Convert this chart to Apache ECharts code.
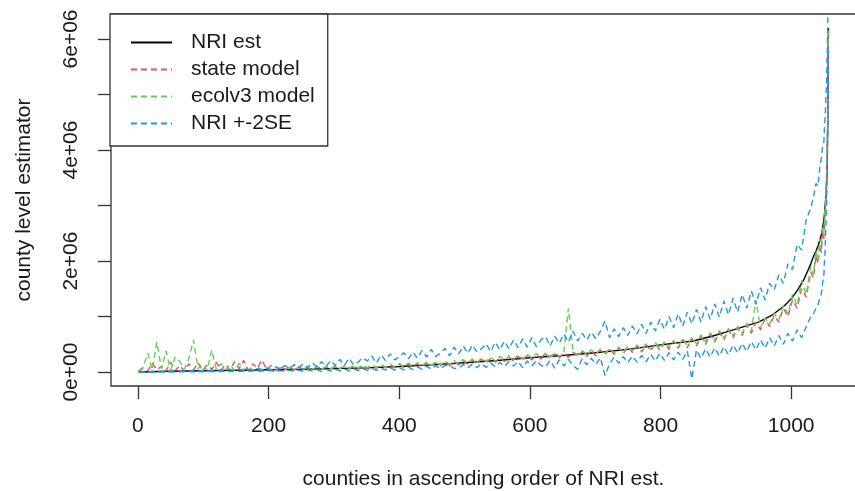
<!DOCTYPE html>
<html>
<head>
<meta charset="utf-8">
<script src="https://cdn.jsdelivr.net/npm/echarts@6/dist/echarts.min.js"></script>
<style>
  html, body { margin: 0; padding: 0; background: #fff; }
  #chart { width: 855px; height: 491px; }
</style>
</head>
<body>
<div id="chart"></div>
<script>
// values in thousands
const nriIdx = [1, 50, 100, 150, 200, 250, 300, 350, 400, 450,
    500, 550, 600, 650, 700, 750, 800, 850, 880, 900,
    925, 950, 970, 990, 1000, 1010, 1020, 1030, 1034, 1038,
    1041, 1044, 1046, 1048, 1050, 1051, 1052, 1053, 1054, 1055,
    1056, 1057]
const nriEst = [3, 15, 25, 33, 42, 52, 63, 76, 100, 130,
    170, 210, 260, 300, 350, 410, 490, 560, 650, 720,
    810, 900, 1020, 1200, 1320, 1480, 1680, 1950, 2080, 2180,
    2270, 2380, 2460, 2580, 2750, 2850, 3000, 3150, 3350, 3650,
    4600, 6200]

// county positions of the noisy series: every 7th county, then the tail
const tailIdx = [1034, 1038, 1041, 1044, 1046, 1048, 1050, 1051, 1052, 1053, 1054, 1055, 1056, 1057]
const sampleIdx = []
for (let i = 1; i <= 1030; i += 7) sampleIdx.push(i)
sampleIdx.push(...tailIdx)

const stateModel = [
    10, 70, 20, 160, 40, 110, 15, 180, 30, 120,
    20, 150, 40, 170, 25, 130, 50, 180, 30, 140,
    40, 190, 60, 210, 30, 150, 70, 220, 40, 120,
    30, 110, 50, 90, 35, 100, 45, 85, 40, 110,
    45, 100, 55, 95, 50, 115, 60, 105, 55, 120,
    65, 115, 70, 125, 75, 130, 80, 140, 85, 145,
    90, 150, 100, 160, 105, 170, 110, 180, 120, 190,
    130, 200, 145, 215, 155, 230, 165, 245, 180, 260,
    190, 270, 200, 285, 210, 300, 220, 310, 235, 320,
    240, 330, 255, 345, 265, 360, 275, 370, 285, 385,
    295, 400, 310, 420, 320, 440, 335, 460, 350, 480,
    365, 500, 380, 520, 395, 540, 410, 560, 430, 590,
    440, 610, 470, 640, 500, 680, 540, 720, 580, 760,
    610, 800, 660, 850, 700, 900, 760, 960, 820, 1020,
    900, 1150, 1000, 1300, 1150, 1500, 1350, 1800,
    1700, 2100, 1950, 2300, 2150, 2500, 2400, 2700, 2900, 3100, 3400, 3800, 4700, 6150]
const ecolv3Model = [
    20, 90, 340, 40, 540, 60, 380, 30, 270, 200,
    50, 250, 580, 60, 140, 30, 400, 50, 150, 40,
    130, 30, 160, 40, 110, 30, 90, 45, 70, 40,
    35, 80, 40, 90, 45, 85, 50, 100, 55, 95,
    55, 100, 60, 110, 65, 115, 70, 120, 75, 125,
    80, 130, 85, 140, 90, 150, 95, 155, 100, 165,
    105, 170, 115, 180, 120, 190, 130, 200, 140, 210,
    150, 225, 160, 240, 175, 255, 185, 270, 200, 285,
    210, 295, 225, 310, 235, 320, 250, 335, 260, 345,
    270, 355, 285, 365, 1150, 380, 305, 390, 315, 400,
    325, 415, 340, 430, 350, 450, 365, 470, 380, 490,
    395, 510, 410, 530, 430, 550, 445, 570, 460, 600,
    480, 630, 510, 670, 540, 710, 570, 750, 610, 790,
    650, 830, 700, 880, 740, 1300, 800, 980, 860, 1060,
    940, 1200, 1050, 1400, 1200, 1650, 1400, 1900,
    1750, 2200, 2000, 2400, 2200, 2600, 2500, 2800, 3000, 3200, 3500, 3900, 4800, 6150]
const nriUpper = [
    5, 12, 4, 15, 8, 18, 6, 14, 10, 20,
    22, 12, 28, 15, 30, 18, 34, 20, 38, 24,
    40, 22, 48, 28, 55, 30, 62, 35, 75, 45,
    95, 50, 120, 60, 135, 70, 150, 80, 170, 90,
    190, 100, 210, 115, 230, 120, 250, 130, 180, 260,
    200, 290, 160, 310, 210, 330, 220, 280, 350, 240,
    360, 250, 390, 270, 410, 280, 340, 430, 290, 450,
    330, 470, 340, 490, 360, 420, 510, 370, 540, 400,
    560, 420, 580, 440, 600, 450, 620, 460, 580, 640,
    470, 650, 520, 690, 540, 740, 560, 700, 580, 720,
    600, 740, 920, 620, 780, 640, 800, 660, 830, 690,
    860, 700, 900, 740, 950, 770, 1000, 800, 1050, 830,
    1080, 870, 1130, 900, 1180, 950, 1230, 990, 1280, 1030,
    1330, 1080, 1400, 1150, 1460, 1220, 1520, 1300, 1600, 1480,
    1750, 1600, 1950, 1850, 2300, 2200, 2750, 2950,
    3150, 3400, 3350, 3700, 3850, 4050, 4150, 4450, 4600, 4900, 5200, 5700, 6300, 7000]
const nriLower = [
    0, 3, 1, 4, 2, 5, 2, 6, 3, 7,
    5, 10, 6, 12, 7, 13, 8, 15, 9, 16,
    10, 18, 12, 20, 13, 22, 14, 24, 16, 26,
    10, 30, 12, 35, 14, 38, 16, 42, 18, 45,
    15, 48, 20, 52, 22, 55, 25, 60, 28, 62,
    30, 68, 32, 72, 35, 78, 38, 82, 40, 88,
    45, 95, 50, 105, 55, 115, 60, 120, 125, 65,
    70, 135, 75, 145, 80, 155, 85, 165, 95, 175,
    100, 185, 110, 190, 80, 200, 115, 205, 120, 90,
    210, 70, 220, 110, 230, 120, 50, 240, 130, 250,
    140, 260, -60, 150, 270, 160, 280, 170, 290, 180,
    300, 190, 320, 200, 340, 210, 350, 220, 360, 230,
    380, -120, 400, 250, 420, 270, 440, 290, 460, 310,
    490, 340, 520, 370, 550, 400, 580, 430, 620, 470,
    660, 500, 700, 560, 760, 620, 820, 1000,
    1050, 1150, 1200, 1350, 1400, 1600, 1750, 2000, 2200, 2600, 2900, 3500, 4300, 5800]

const xTicks = [0, 200, 400, 600, 800, 1000]
const yTicks = [0, 1e6, 2e6, 3e6, 4e6, 5e6, 6e6]
const yLabels = [0, 2e6, 4e6, 6e6]

const font = "'Liberation Sans', Arial, sans-serif"
const ink = '#1a1a1a'

function pairs(xs, ys) {
    return xs.map((x, i) => [x, ys[i] * 1000])
}

function sci(v) {
    if (v === 0) return '0e+00'
    const e = Math.floor(Math.log10(Math.abs(v)))
    const m = v / Math.pow(10, e)
    return m + 'e+' + (e < 10 ? '0' + e : e)
}

const dashed = (color) => ({ color: color, width: 1.4, type: [6, 4] })

const chart = echarts.init(document.getElementById('chart'))
chart.setOption({
    animation: false,
    backgroundColor: '#fff',
    grid: {
        left: 111,
        right: -1,
        top: 14,
        bottom: 105,
        outerBoundsMode: 'none',
        show: true,
        borderColor: '#333',
        borderWidth: 1.3
    },
    legend: {
        left: 110,
        top: 14,
        orient: 'vertical',
        padding: [18, 13, 12, 20],
        itemWidth: 41,
        itemHeight: 20,
        itemGap: 6,
        borderColor: '#333',
        borderWidth: 1.3,
        backgroundColor: '#fff',
        itemStyle: { opacity: 0 },
        textStyle: { fontFamily: font, fontSize: 21, color: ink, lineHeight: 20, padding: [0, 0, 0, 14] },
        data: ['NRI est', 'state model', 'ecolv3 model', 'NRI +-2SE']
    },
    xAxis: {
        type: 'value',
        min: -41.2,
        max: 1099.2,
        name: 'counties in ascending order of NRI est.',
        nameLocation: 'middle',
        nameGap: 83,
        nameTextStyle: { fontFamily: font, fontSize: 21, color: ink },
        axisLine: { show: false, onZero: false },
        splitLine: { show: false },
        axisTick: { customValues: xTicks, length: 13, lineStyle: { color: '#333', width: 1.3 } },
        axisLabel: {
            customValues: xTicks, margin: 30,
            fontFamily: font, fontSize: 21, color: ink,
            formatter: (v) => String(v)
        }
    },
    yAxis: {
        type: 'value',
        min: -250000,
        max: 6450000,
        name: 'county level estimator',
        nameLocation: 'middle',
        nameGap: 76,
        nameTextStyle: { fontFamily: font, fontSize: 21, color: ink },
        axisLine: { show: false, onZero: false },
        splitLine: { show: false },
        axisTick: { customValues: yTicks, length: 13, lineStyle: { color: '#333', width: 1.3 } },
        axisLabel: {
            customValues: yLabels, rotate: 90, margin: 29,
            align: 'center', verticalAlign: 'bottom',
            fontFamily: font, fontSize: 21, color: ink,
            formatter: sci
        }
    },
    series: [
        {
            name: 'NRI est', type: 'line', symbol: 'none',
            lineStyle: { color: '#000', width: 1.4 }, itemStyle: { color: '#000' },
            data: pairs(nriIdx, nriEst)
        },
        {
            name: 'state model', type: 'line', symbol: 'none',
            lineStyle: dashed('#DF536B'), itemStyle: { color: '#DF536B' },
            data: pairs(sampleIdx, stateModel)
        },
        {
            name: 'ecolv3 model', type: 'line', symbol: 'none',
            lineStyle: dashed('#61D04F'), itemStyle: { color: '#61D04F' },
            data: pairs(sampleIdx, ecolv3Model)
        },
        {
            name: 'NRI +-2SE', type: 'line', symbol: 'none',
            lineStyle: dashed('#2297E6'), itemStyle: { color: '#2297E6' },
            data: pairs(sampleIdx, nriUpper)
        },
        {
            name: 'NRI +-2SE', type: 'line', symbol: 'none',
            lineStyle: dashed('#2297E6'), itemStyle: { color: '#2297E6' },
            data: pairs(sampleIdx, nriLower)
        }
    ]
})
</script>
</body>
</html>
